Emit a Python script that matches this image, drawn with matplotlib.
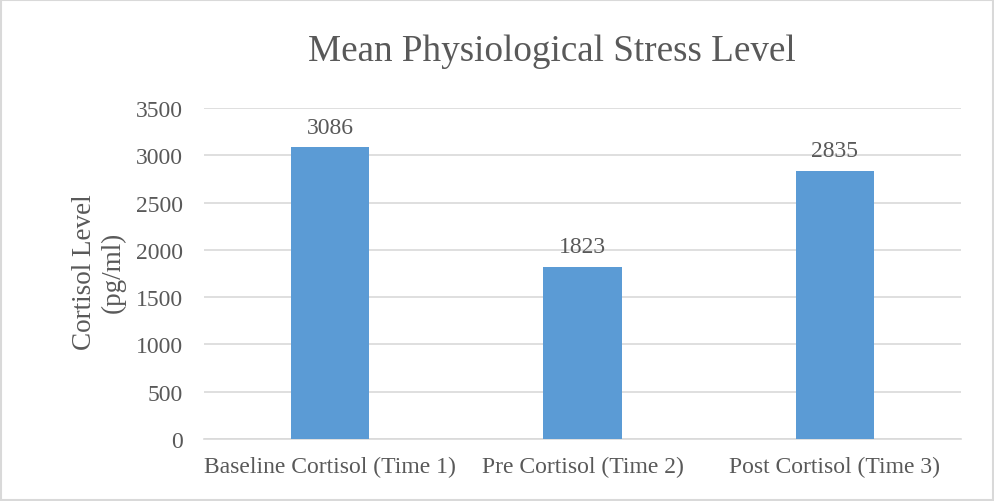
import matplotlib
matplotlib.use("Agg")
import matplotlib.pyplot as plt
from matplotlib.patches import Rectangle

categories = ["Baseline Cortisol (Time 1)", "Pre Cortisol (Time 2)", "Post Cortisol (Time 3)"]
values = [3086, 1823, 2835]
yticks = [0, 500, 1000, 1500, 2000, 2500, 3000, 3500]

plt.rcParams['font.family'] = ['Liberation Serif', 'DejaVu Serif']
txt = '#595959'

fig = plt.figure(figsize=(9.95, 5.02), dpi=100)
ax = fig.add_axes([204/995, 62/502, 757/995, 331/502])

x = range(len(categories))
ax.bar(x, values, width=0.31, color='#5B9BD5', zorder=3)
for xi, v in zip(x, values):
    ax.text(xi, v + 100, f"{v}", ha='center', va='bottom', fontsize=17, color=txt)

ax.set_xlim(-0.5, 2.5)
ax.set_ylim(0, 3500)
ax.set_yticks(yticks)
ax.set_xticks(list(x))
ax.set_xticklabels(categories)
ax.tick_params(axis='both', length=0, labelsize=17, colors=txt)
ax.tick_params(axis='y', pad=15)
ax.tick_params(axis='x', pad=12)
ax.grid(axis='y', color='#D9D9D9', linewidth=1.2, zorder=0)
for s in ['top', 'right', 'left']:
    ax.spines[s].set_visible(False)
ax.spines['bottom'].set_color('#D9D9D9')
ax.spines['bottom'].set_linewidth(1.2)

fig.text(99/995, 1 - 272/502, "Cortisol Level\n(pg/ml)", rotation=90, ha='center', va='center',
         fontsize=19.5, color=txt, linespacing=1.15)
fig.text(552/995, 1 - 52/502, "Mean Physiological Stress Level", ha='center', va='center',
         fontsize=26.7, color=txt)

fig.patches.append(Rectangle((0.001, 0.002), 0.997, 0.996, transform=fig.transFigure,
                             fill=False, edgecolor='#D9D9D9', linewidth=1.5))
fig.savefig("out.png", dpi=100)
